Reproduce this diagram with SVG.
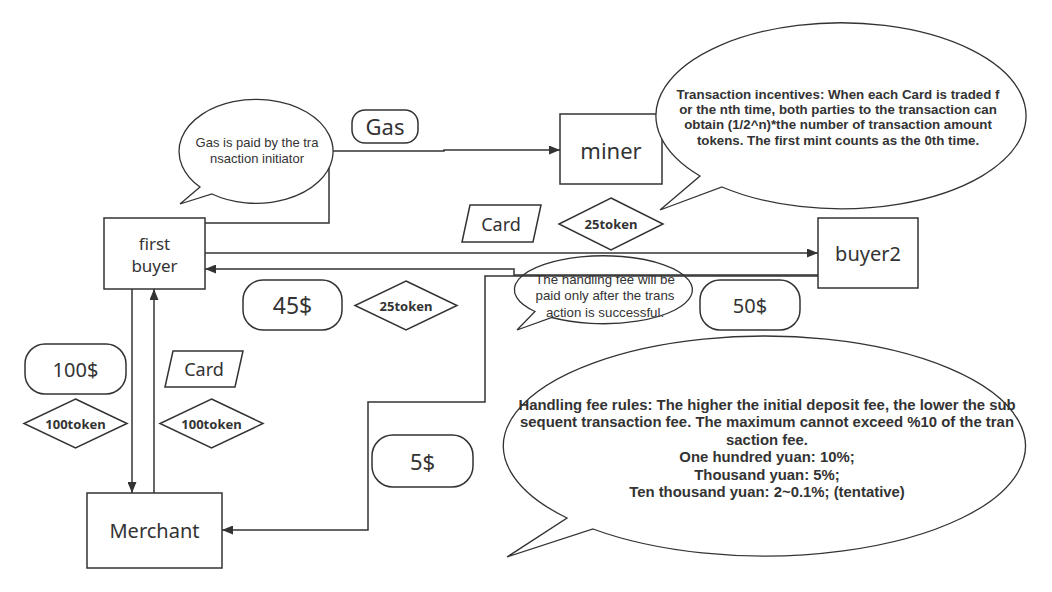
<svg xmlns="http://www.w3.org/2000/svg" width="1052" height="592" viewBox="0 0 1052 592">
<defs>
<marker id="arr" viewBox="0 0 11 9" refX="11" refY="4.5" markerWidth="11" markerHeight="9" markerUnits="userSpaceOnUse" orient="auto">
<path d="M0,0 L11,4.5 L0,9 z" fill="#333"/>
</marker>
<style>
.sh{fill:#fff;stroke:#333;stroke-width:1.5}
.bub{fill:#fff;stroke:#333;stroke-width:1.3}
.ln{fill:none;stroke:#333;stroke-width:1.5}
.t{font-family:"Noto Sans","Open Sans",sans-serif;fill:#333;text-anchor:middle;dominant-baseline:central}
.p{font-family:"Liberation Sans",Arial,sans-serif;fill:#333;text-anchor:middle;dominant-baseline:central}
.b{font-weight:bold;font-size:13px}
.gs{font-size:13px}
.hs{font-size:13.3px}
.inc{font-weight:bold;font-size:13.3px}
.fee{font-weight:bold;font-size:14.9px}
</style>
</defs>
<rect width="1052" height="592" fill="#fff"/>

<g id="handling-bubble">
<path class="bub" d="M552,317.5 A89 34 0 1 0 535,311.5 L517,330 Z"/>
<text class="p hs" x="605" y="279">The handling fee will be</text>
<text class="p hs" x="605" y="295.5">paid only after the trans</text>
<text class="p hs" x="605" y="312">action is successful.</text>
</g>

<g id="connectors">
<path class="ln" d="M205,223 H329 V151 H444 V150 H560" marker-end="url(#arr)"/>
<path class="ln" d="M205,253 H818" marker-end="url(#arr)"/>
<path class="ln" d="M818,275 H514 V269 H205" marker-end="url(#arr)"/>
<path class="ln" d="M818,276 H485 V402 H368 V530 H222" marker-end="url(#arr)"/>
<path class="ln" d="M132,289 V493" marker-end="url(#arr)"/>
<path class="ln" d="M154,493 V289" marker-end="url(#arr)"/>
</g>

<g id="gas-bubble">
<path class="bub" d="M212,194 A77 52 0 1 0 200,187 L180,204 Z"/>
<text class="p gs" x="257" y="142.6">Gas is paid by the tra</text>
<text class="p gs" x="257" y="158">nsaction initiator</text>
</g>

<g id="gas-label">
<rect class="sh" x="352" y="110" width="66" height="33" rx="13"/>
<text class="t" x="385" y="126" font-size="22">Gas</text>
</g>

<g id="miner">
<rect class="sh" x="560" y="114" width="102" height="70"/>
<text class="t" x="611" y="150" font-size="22">miner</text>
</g>

<g id="incentive-bubble">
<path class="bub" d="M722,187 A185 93 0 1 0 700,176 L660,210 Z"/>
<text class="p inc" x="838" y="94">Transaction incentives: When each Card is traded f</text>
<text class="p inc" x="838" y="109.4">or the nth time, both parties to the transaction can</text>
<text class="p inc" x="838" y="124.8">obtain (1/2^n)*the number of transaction amount</text>
<text class="p inc" x="838" y="140.2">tokens. The first mint counts as the 0th time.</text>
</g>

<g id="first-buyer">
<rect class="sh" x="104" y="218" width="101" height="71"/>
<text class="t" x="154.5" y="243" font-size="17">first</text>
<text class="t" x="154.5" y="265" font-size="17">buyer</text>
</g>

<g id="card-top">
<path class="sh" d="M470,205 H541 L533,242 H462 Z"/>
<text class="t" x="501" y="224" font-size="18">Card</text>
</g>

<g id="token25-top">
<path class="sh" d="M611,198 L663,224 L611,250 L559,224 Z"/>
<text class="t b" x="611" y="224">25token</text>
</g>

<g id="buyer2">
<rect class="sh" x="818" y="218" width="100" height="70"/>
<text class="t" x="868" y="253" font-size="20">buyer2</text>
</g>

<g id="usd45">
<rect class="sh" x="243" y="280" width="99" height="50" rx="20"/>
<text class="t" x="292.5" y="305" font-size="23">45$</text>
</g>

<g id="token25-low">
<path class="sh" d="M406,281 L457,305.5 L406,330 L355,305.5 Z"/>
<text class="t b" x="406" y="305.5">25token</text>
</g>

<g id="usd50">
<rect class="sh" x="700" y="280" width="100" height="50" rx="20"/>
<text class="t" x="750" y="305" font-size="20">50$</text>
</g>

<g id="usd100">
<rect class="sh" x="25" y="344" width="101" height="50" rx="20"/>
<text class="t" x="75.5" y="369" font-size="20">100$</text>
</g>

<g id="token100-left">
<path class="sh" d="M75.5,399 L127,423.5 L75.5,448 L24,423.5 Z"/>
<text class="t b" x="75.5" y="423.5">100token</text>
</g>

<g id="card-low">
<path class="sh" d="M173,351 H243 L235,387 H165 Z"/>
<text class="t" x="204" y="369" font-size="18">Card</text>
</g>

<g id="token100-right">
<path class="sh" d="M211.5,399 L263,423.5 L211.5,448 L160,423.5 Z"/>
<text class="t b" x="211.5" y="423.5">100token</text>
</g>

<g id="usd5">
<rect class="sh" x="372" y="435" width="101" height="52" rx="21"/>
<text class="t" x="422.5" y="461" font-size="22">5$</text>
</g>

<g id="merchant">
<rect class="sh" x="87" y="493" width="135" height="75"/>
<text class="t" x="154.5" y="530" font-size="20">Merchant</text>
</g>

<g id="fee-rules-bubble">
<path class="bub" d="M593,529 A261 110 0 1 0 567,518 L507,557 Z"/>
<text class="p fee" x="767" y="405">Handling fee rules: The higher the initial deposit fee, the lower the sub</text>
<text class="p fee" x="767" y="422.4">sequent transaction fee. The maximum cannot exceed %10 of the tran</text>
<text class="p fee" x="767" y="439.8">saction fee.</text>
<text class="p fee" x="767" y="457.2">One hundred yuan: 10%;</text>
<text class="p fee" x="767" y="474.6">Thousand yuan: 5%;</text>
<text class="p fee" x="767" y="492">Ten thousand yuan: 2~0.1%; (tentative)</text>
</g>
</svg>
